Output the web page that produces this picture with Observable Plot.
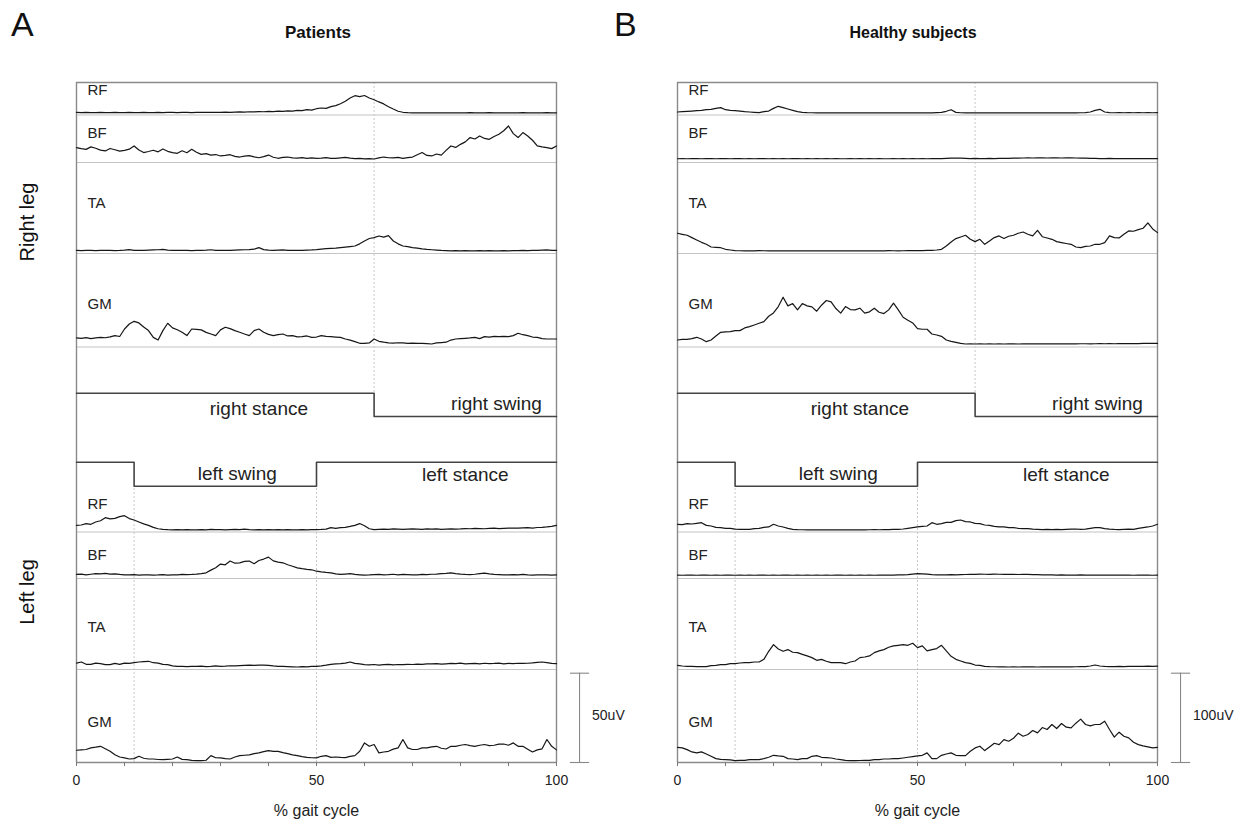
<!DOCTYPE html>
<html><head><meta charset="utf-8">
<script src="https://cdn.jsdelivr.net/npm/d3@7"></script>
<script src="https://cdn.jsdelivr.net/npm/@observablehq/plot@0.6"></script>
<style>
body{margin:0;background:#fff;font-family:"Liberation Sans",Arial,sans-serif;color:#111;}
#wrap{position:relative;width:1243px;height:829px;overflow:hidden;}
.panel{position:absolute;top:0;}
.t{position:absolute;white-space:nowrap;}
</style></head>
<body><div id="wrap">
<div id="pA" class="panel" style="left:0px"></div>
<div id="pB" class="panel" style="left:620px"></div>
<div class="t" style="left:11px;top:5px;font-size:34px;">A</div>
<div class="t" style="left:614px;top:5px;font-size:34px;">B</div>
<div class="t" style="left:318px;top:33px;transform:translate(-50%,-50%);font-size:17px;font-weight:bold;">Patients</div>
<div class="t" style="left:913px;top:33px;transform:translate(-50%,-50%);font-size:16px;font-weight:bold;">Healthy subjects</div>
<div class="t" style="left:27px;top:222px;transform:translate(-50%,-50%) rotate(-90deg);font-size:20px;">Right leg</div>
<div class="t" style="left:27px;top:592px;transform:translate(-50%,-50%) rotate(-90deg);font-size:20px;">Left leg</div>
</div>
<script>
// ---------- DATA (µV above baseline, sampled every 1 % of the gait cycle) ----------
const gaitPct = d3.range(0, 101);
const muscles = ["RF", "BF", "TA", "GM"];
const xTicks = [0, 10, 20, 30, 40, 50, 60, 70, 80, 90, 100];
const xTickLabels = [0, 50, 100];

const patientsRightRF = [0.3,0.2,0.3,0.2,0.2,0.3,0.2,0.2,0.3,0.2, 0.2,0.3,0.2,0.2,0.3,0.2,0.2,0.3,0.2,0.3, 0.3,0.2,0.3,0.3,0.2,0.3,0.4,0.3,0.4,0.3, 0.4,0.5,0.4,0.5,0.6,0.5,0.7,0.6,0.8,0.7, 0.9,0.8,1.0,0.9,1.2,1.1,1.5,1.3,1.9,1.6, 2.4,2.8,2.6,3.6,4.1,5.2,6.6,8.4,9.7,9.2, 9.8,8.4,7.4,6.2,5.1,3.5,2.2,1.0,0.4,0.2, 0.1,0.1,0.1,0.1,0.1,0.1,0.1,0.1,0.1,0.1, 0.1,0.1,0.2,0.1,0.1,0.1,0.2,0.1,0.1,0.1, 0.1,0.1,0.1,0.2,0.1,0.1,0.1,0.1,0.2,0.1,0.1];
const patientsRightBF = [6.4,5.8,5.4,6.8,6.0,5.0,4.5,5.9,5.2,4.4, 4.8,5.5,7.3,5.0,3.6,4.2,4.9,4.0,5.6,4.3, 3.6,3.2,4.6,3.5,5.4,3.8,2.6,3.0,2.2,2.5, 1.7,2.0,2.4,1.5,1.1,1.6,1.9,1.2,0.7,1.3, 2.2,1.0,0.4,0.9,1.1,0.6,0.5,0.8,0.4,0.6, 0.3,0.5,0.8,0.4,0.3,0.6,0.9,0.5,0.2,0.4, 0.1,0.2,0.0,0.6,1.1,0.7,0.6,0.9,0.4,0.8, 1.1,2.4,3.6,2.0,1.7,2.8,2.2,4.8,7.3,6.5, 8.2,9.6,12.0,11.2,12.9,11.5,11.0,12.6,13.9,15.8, 18.5,14.2,12.0,14.8,12.9,10.5,7.3,6.8,6.4,5.8,7.3];
const patientsRightTA = [0.3,0.2,0.4,0.3,0.2,0.3,0.4,0.3,0.2,0.3, 0.5,0.8,0.4,0.3,0.4,0.5,0.6,0.7,0.9,0.5, 0.4,0.3,0.4,0.3,0.2,0.3,0.4,0.5,0.7,0.4, 0.3,0.4,0.3,0.5,0.6,0.7,0.8,1.0,1.9,0.8, 0.5,0.4,0.5,0.6,0.4,0.3,0.4,0.3,0.5,0.6, 0.8,1.1,1.3,1.5,1.6,1.9,2.2,2.5,2.8,4.0, 5.6,7.0,7.5,8.4,7.8,8.6,5.6,4.0,2.8,2.4, 1.9,1.6,1.2,0.9,0.7,0.5,0.3,0.2,0.1,0.2, 0.1,0.2,0.1,0.1,0.2,0.1,0.2,0.1,0.1,0.2, 0.1,0.2,0.2,0.3,0.2,0.3,0.4,0.5,0.6,0.4,0.4];
const patientsRightGM = [3.4,3.2,3.6,3.0,3.4,3.7,3.5,4.0,4.7,4.2, 8.4,11.2,12.7,11.8,9.5,7.5,3.7,2.2,7.5,11.6, 9.0,8.0,6.6,4.7,8.4,8.2,7.9,6.5,5.6,4.7, 7.9,9.4,8.6,7.5,6.6,5.6,4.7,7.5,8.4,6.6, 5.4,4.7,5.2,5.6,4.5,4.7,4.0,4.1,4.5,3.7, 3.9,4.7,4.3,4.1,3.9,3.7,2.8,2.2,1.3,0.4, 0.4,0.6,2.8,1.5,1.0,0.6,0.5,0.7,0.6,0.4, 0.5,0.3,0.4,0.2,0.0,0.6,0.8,1.0,2.2,2.8, 3.0,3.2,3.4,3.7,3.0,4.1,3.9,4.3,4.1,4.3, 4.1,4.7,6.0,5.2,4.7,3.9,3.7,3.0,2.8,2.8,2.8];
const patientsLeftRF = [2.6,2.8,3.6,3.2,4.5,5.2,6.9,6.2,6.5,7.5, 8.0,6.4,5.6,4.5,3.4,2.6,1.5,0.7,0.4,0.2, 0.1,0.2,0.1,0.2,0.1,0.1,0.2,0.1,0.3,0.2, 0.2,0.1,0.2,0.3,0.2,0.5,0.2,0.1,0.2,0.1, 0.2,0.1,0.2,0.1,0.2,0.1,0.1,0.2,0.1,0.2, 0.2,0.3,0.5,1.3,0.9,1.3,1.5,2.0,2.6,3.6, 2.4,0.7,0.2,0.4,0.5,0.4,0.6,0.5,0.4,0.5, 0.6,0.5,0.4,0.6,0.5,0.6,0.4,0.5,0.6,0.5, 0.6,0.8,0.7,0.9,0.8,0.7,0.9,1.0,0.8,0.9, 1.0,1.1,1.0,1.2,1.3,1.1,1.4,1.5,1.7,2.0,2.6];
const patientsLeftBF = [0.6,0.8,0.4,0.7,1.0,0.9,1.2,0.8,0.9,0.6, 0.4,0.3,0.5,0.2,0.3,0.4,0.2,0.3,0.5,0.2, 0.3,0.4,0.6,0.5,0.6,0.8,1.1,1.5,3.0,4.3, 6.4,6.0,8.1,6.9,7.1,7.9,8.1,6.6,8.4,9.2, 10.3,8.2,7.5,7.1,6.0,5.2,4.3,3.8,3.4,3.2, 2.4,2.0,1.7,1.5,0.9,0.6,0.8,1.0,0.6,0.4, 0.2,0.3,0.5,0.6,0.4,0.5,0.7,0.4,0.6,0.5, 0.3,0.4,0.6,0.5,0.7,0.8,1.0,1.2,1.5,1.1, 0.8,0.6,0.5,0.7,1.0,1.3,0.9,0.6,0.5,0.4, 0.3,0.5,0.4,0.6,0.3,0.2,0.3,0.4,0.3,0.2,0.3];
const patientsLeftTA = [2.2,2.8,1.5,1.5,2.2,1.9,1.3,1.3,2.0,1.5, 2.2,2.0,2.4,2.8,3.0,3.2,2.4,2.2,1.5,1.3, 0.6,0.4,0.3,0.2,0.4,0.3,0.5,0.2,0.3,0.6, 0.4,0.5,0.7,0.6,0.8,0.9,1.0,0.9,1.1,1.0, 0.9,0.6,0.4,0.3,0.2,0.1,0.0,0.2,0.1,0.3, 0.4,0.6,1.0,1.5,1.8,1.9,2.2,2.8,2.0,1.7, 1.3,1.2,1.4,1.1,1.3,1.5,1.2,1.4,1.3,1.5, 1.4,1.6,1.5,1.8,1.7,1.9,1.6,1.8,2.0,1.9, 2.2,1.8,1.9,2.0,1.7,2.1,1.9,2.0,2.2,1.8, 2.0,1.9,2.1,2.0,2.1,2.3,2.6,2.8,2.4,2.0,1.9];
const patientsLeftGM = [6.2,6.4,6.6,7.5,7.9,8.4,7.0,5.6,3.7,2.4, 1.9,1.3,1.5,2.8,1.7,1.3,1.3,1.0,0.9,1.1, 1.3,2.4,1.1,0.9,0.5,0.4,0.4,0.6,3.2,2.0, 1.9,1.5,1.3,2.4,3.2,3.4,3.6,4.3,4.7,5.4, 6.0,5.6,5.6,4.9,4.3,3.6,3.2,2.6,2.2,2.0, 1.9,2.8,3.2,2.2,2.4,2.2,2.1,2.8,3.2,5.6, 10.3,8.4,9.4,4.7,5.2,5.6,6.8,7.5,12.2,7.5, 6.6,6.6,7.5,7.5,8.1,8.4,7.3,6.9,8.4,8.4, 9.0,9.4,8.8,8.4,9.0,9.4,8.8,9.0,9.6,9.7, 9.0,10.3,8.4,8.4,6.8,5.2,6.4,7.0,12.2,8.4,6.4];

const healthyRightRF = [1.1,1.5,1.9,2.2,2.6,3.0,3.7,4.1,5.2,6.0, 3.7,3.0,2.6,2.2,1.5,1.1,0.7,0.4,1.5,2.2, 5.2,7.5,6.0,4.5,3.0,1.5,0.7,0.4,0.3,0.2, 0.3,0.2,0.3,0.2,0.2,0.3,0.2,0.3,0.2,0.2, 0.3,0.2,0.2,0.3,0.2,0.3,0.2,0.2,0.3,0.2, 0.3,0.2,0.3,0.2,0.4,0.7,1.9,3.7,0.7,0.3, 0.2,0.1,0.2,0.1,0.2,0.1,0.2,0.1,0.2,0.1, 0.2,0.1,0.2,0.2,0.1,0.2,0.1,0.2,0.3,0.2, 0.3,0.2,0.3,0.2,0.3,0.4,1.1,3.0,4.1,1.1, 0.4,0.3,0.4,0.3,0.4,0.3,0.4,0.3,0.4,0.3,0.4];
const healthyRightBF = [0.3,0.4,0.3,0.5,0.4,0.3,0.4,0.5,0.3,0.4, 0.4,0.3,0.5,0.4,0.3,0.4,0.3,0.4,0.5,0.3, 0.4,0.3,0.4,0.3,0.5,0.4,0.3,0.4,0.3,0.4, 0.3,0.4,0.3,0.4,0.3,0.3,0.4,0.3,0.4,0.3, 0.4,0.3,0.4,0.3,0.3,0.4,0.3,0.4,0.3,0.4, 0.3,0.4,0.3,0.4,0.5,0.5,0.8,1.0,1.1,0.9, 0.7,0.5,0.6,0.5,0.5,0.6,0.5,0.6,0.7,0.8, 0.9,1.0,1.1,1.2,1.1,1.3,1.2,1.1,1.3,1.2, 1.1,1.2,1.3,1.1,1.0,0.9,0.8,0.6,0.5,0.5, 0.6,0.5,0.4,0.5,0.4,0.5,0.4,0.5,0.4,0.5,0.4];
const healthyRightTA = [19.9,18.7,17.6,15.0,12.4,9.7,7.5,4.5,4.1,3.7, 1.9,1.1,0.4,0.3,0.2,0.3,0.2,0.4,0.3,0.2, 0.3,0.2,0.3,0.2,0.3,0.2,0.2,0.3,0.2,0.3, 0.2,0.3,0.2,0.3,0.2,0.3,0.2,0.2,0.3,0.2, 0.3,0.2,0.3,0.2,0.4,0.3,0.2,0.3,0.4,0.5, 0.4,0.5,0.6,0.8,1.1,1.9,5.6,10.1,13.9,15.7, 17.6,13.1,10.5,13.1,7.5,11.2,15.0,16.9,14.0,16.5, 17.6,19.9,21.3,18.7,16.9,23.2,16.0,14.6,13.1,10.5, 9.4,8.4,7.5,4.5,3.7,5.2,5.6,7.5,7.5,9.4, 16.9,15.0,14.6,18.7,22.5,22.1,24.0,25.5,31.5,24.7,20.6];
const healthyRightGM = [4.5,5.2,5.2,6.0,7.5,5.6,2.6,4.5,9.0,13.1, 13.5,13.9,15.0,15.0,18.0,19.5,21.3,23.2,25.1,31.1, 34.8,41.9,52.4,42.7,45.3,38.2,45.3,42.7,41.6,36.7, 43.4,48.7,47.2,39.7,34.5,41.9,38.6,38.2,40.1,34.5, 36.0,40.1,35.6,34.1,38.2,45.7,38.2,30.0,26.6,23.6, 17.2,16.5,16.5,11.2,10.1,8.6,4.5,3.0,1.9,0.7, 0.0,0.1,0.0,0.1,0.0,0.1,0.0,0.1,0.0,0.1, 0.1,0.0,0.1,0.1,0.2,0.1,0.1,0.2,0.1,0.2, 0.2,0.2,0.3,0.2,0.3,0.3,0.2,0.3,0.4,0.3, 0.4,0.3,0.4,0.5,0.4,0.5,0.5,0.6,0.6,0.7,0.7];
const healthyLeftRF = [6.4,6.0,7.1,6.7,7.5,8.2,5.2,4.5,3.0,2.6, 1.9,1.9,0.9,0.7,0.7,0.7,1.5,1.9,3.0,3.4, 6.4,4.5,3.4,1.9,0.7,0.4,0.3,0.2,0.1,0.2, 0.1,0.2,0.1,0.2,0.3,0.2,0.1,0.2,0.3,0.2, 0.3,0.4,0.3,0.5,0.4,0.6,0.8,1.1,1.9,2.6, 3.4,4.1,4.5,8.2,6.4,7.1,8.6,8.6,10.5,11.2, 9.4,9.0,7.5,7.1,5.6,5.2,4.1,3.4,3.4,2.6, 2.6,1.9,1.5,1.5,0.9,0.7,0.5,0.6,0.4,0.6, 0.5,0.7,0.9,1.1,0.8,1.0,1.9,2.6,2.6,1.5, 0.9,0.6,0.5,0.8,1.0,0.7,1.9,2.6,3.4,4.5,6.4];
const healthyLeftBF = [0.4,0.3,0.5,0.4,0.3,0.4,0.5,0.3,0.4,0.3, 0.4,0.5,0.3,0.4,0.3,0.4,0.3,0.5,0.4,0.3, 0.4,0.3,0.4,0.5,0.3,0.4,0.3,0.4,0.3,0.4, 0.3,0.4,0.3,0.4,0.5,0.3,0.4,0.3,0.4,0.3, 0.4,0.3,0.4,0.5,0.4,0.5,0.6,0.7,0.9,1.5, 2.0,1.8,1.5,0.9,0.8,0.7,0.8,0.9,0.8,0.9, 1.1,1.2,1.3,1.5,1.4,1.3,1.5,1.4,1.2,1.3, 1.2,1.1,1.3,1.2,1.0,0.9,0.8,0.7,0.6,0.5, 0.6,0.5,0.4,0.5,0.6,0.5,0.4,0.5,0.4,0.5, 0.4,0.5,0.4,0.5,0.4,0.3,0.4,0.5,0.4,0.3,0.4];
const healthyLeftTA = [1.9,1.1,0.7,0.7,0.4,0.4,0.4,1.5,1.9,2.6, 2.6,3.7,3.7,4.5,4.9,4.9,5.6,5.6,8.6,17.6, 25.1,20.2,17.6,19.5,16.5,16.1,14.2,12.4,10.5,7.5, 8.6,6.4,4.9,4.9,4.9,3.7,5.6,6.7,10.5,11.2, 12.4,16.1,18.0,19.5,22.1,23.6,24.3,25.1,24.3,26.6, 21.7,23.6,18.0,19.5,20.6,24.3,18.0,12.0,8.6,6.7, 4.9,4.1,2.2,1.9,0.7,0.4,0.3,0.2,0.1,0.0, 0.1,0.0,0.1,0.2,0.1,0.0,0.1,0.2,0.1,0.2, 0.2,0.3,0.2,0.3,0.4,0.5,1.1,2.2,1.1,0.6, 0.5,0.4,0.6,0.5,0.7,0.6,0.8,0.7,0.9,0.8,0.9];
const healthyLeftGM = [15.7,15.0,13.1,10.5,9.4,10.5,8.2,5.6,3.0,2.2, 1.9,1.5,0.7,1.1,1.1,1.9,1.9,1.9,3.0,4.5, 6.7,6.0,5.6,3.0,2.6,1.9,3.0,3.0,5.6,6.4, 4.5,4.1,3.7,2.6,1.9,1.1,0.7,0.7,0.9,1.1, 1.1,1.9,1.9,2.6,2.6,3.0,3.0,3.7,4.5,5.2, 6.0,6.7,9.4,3.0,3.0,6.7,8.2,9.4,6.7,6.4, 6.4,11.2,15.0,16.9,12.0,16.1,20.2,18.7,24.3,22.5, 25.8,31.5,28.1,30.0,34.5,31.8,37.8,35.6,41.2,36.7, 42.3,38.2,37.5,42.7,47.2,41.2,39.7,41.2,41.2,44.9, 35.6,27.0,32.6,28.1,26.2,21.3,18.7,17.2,16.1,15.0,15.7];

// gait phases (% of cycle)
const rightSwingStart = 62;        // right stance 0–62, right swing 62–100
const leftSwing = [12, 50];        // left swing 12–50, left stance elsewhere
const phaseLabels = [
  {side: "right", text: "right stance", x: 38},
  {side: "right", text: "right swing", x: 87.5},
  {side: "left", text: "left swing", x: 33.5},
  {side: "left", text: "left stance", x: 81}
];
const scaleBarUV = {patients: 50, healthy: 100};

// ---------- LAYOUT (pixels from the top of the SVG; not data) ----------
const FRAME_TOP = 82, FRAME_BOTTOM = 762, BAR_PX = 89.3;
const laneLayout = [
  {side: "right", muscle: "RF", base: 112.5, label: 90},
  {side: "right", muscle: "BF", base: 158.5, label: 133},
  {side: "right", muscle: "TA", base: 250.5, label: 203},
  {side: "right", muscle: "GM", base: 343.5, label: 304},
  {side: "left",  muscle: "RF", base: 529.5, label: 504},
  {side: "left",  muscle: "BF", base: 575,   label: 555},
  {side: "left",  muscle: "TA", base: 666.5, label: 627},
  {side: "left",  muscle: "GM", base: 760.8, label: 722}
];
const separatorsPx = [114.5, 162, 253, 346.5, 531.5, 578, 669];
const stepPx = {rightHigh: 392.7, rightLow: 416, leftHigh: 461.7, leftLow: 485.7};
const phaseTextPx = {"right stance": 408, "right swing": 403, "left swing": 473, "left stance": 474};

const series = {
  patients: {right: [patientsRightRF, patientsRightBF, patientsRightTA, patientsRightGM],
             left:  [patientsLeftRF,  patientsLeftBF,  patientsLeftTA,  patientsLeftGM]},
  healthy:  {right: [healthyRightRF, healthyRightBF, healthyRightTA, healthyRightGM],
             left:  [healthyLeftRF,  healthyLeftBF,  healthyLeftTA,  healthyLeftGM]}
};

function makePanel(group, width, marginLeft, marginRight) {
  const uv = scaleBarUV[group];
  const gain = BAR_PX / uv;                 // px per µV
  const Y = px => (FRAME_BOTTOM - px) / gain; // px -> µV on this panel's y scale
  const traces = [];
  laneLayout.forEach((lane, i) => {
    const vals = series[group][lane.side][muscles.indexOf(lane.muscle)];
    vals.forEach((v, j) => traces.push({lane: i, pct: gaitPct[j], y: Y(lane.base) + v}));
  });
  const rightStep = [
    {x: 0, y: Y(stepPx.rightHigh)}, {x: rightSwingStart, y: Y(stepPx.rightLow)}, {x: 100, y: Y(stepPx.rightLow)}
  ];
  const leftStep = [
    {x: 0, y: Y(stepPx.leftHigh)}, {x: leftSwing[0], y: Y(stepPx.leftLow)},
    {x: leftSwing[1], y: Y(stepPx.leftHigh)}, {x: 100, y: Y(stepPx.leftHigh)}
  ];
  const barX = 104.8;
  return Plot.plot({
    width, height: 829,
    marginLeft, marginRight, marginTop: FRAME_TOP, marginBottom: 829 - FRAME_BOTTOM,
    x: {domain: [0, 100]},
    y: {domain: [0, Y(FRAME_TOP)], axis: null},
    style: {fontFamily: "'Liberation Sans', Arial, sans-serif", fontSize: "14px", color: "#222", background: "transparent", overflow: "visible"},
    marks: [
      Plot.ruleY(separatorsPx.map(Y), {stroke: "#c4c4c4", strokeWidth: 1.2}),
      Plot.ruleX([rightSwingStart], {y1: Y(FRAME_TOP), y2: Y(stepPx.rightHigh), stroke: "#c8c8c8", strokeDasharray: "2,2"}),
      Plot.ruleX(leftSwing, {y1: 0, y2: Y(stepPx.leftLow), stroke: "#c8c8c8", strokeDasharray: "2,2"}),
      Plot.ruleY([Y(FRAME_TOP), 0], {stroke: "#8a8a8a", strokeWidth: 1.3}),
      Plot.ruleX([0, 100], {stroke: "#8a8a8a", strokeWidth: 1.4}),
      Plot.line(rightStep, {x: "x", y: "y", curve: "step-after", stroke: "#444", strokeWidth: 1.6}),
      Plot.line(leftStep, {x: "x", y: "y", curve: "step-after", stroke: "#444", strokeWidth: 1.6}),
      Plot.text(phaseLabels, {x: "x", y: d => Y(phaseTextPx[d.text]), text: "text", fontSize: 19, fill: "#222"}),
      Plot.line(traces, {x: "pct", y: "y", z: "lane", stroke: "#161616", strokeWidth: 1.2, strokeLinejoin: "round"}),
      Plot.text(laneLayout, {x: 0, y: d => Y(d.label), text: "muscle", textAnchor: "start", dx: 11, fontSize: 15, fill: "#222"}),
      Plot.axisX({ticks: xTicks, tickSize: 4, tickPadding: 9, stroke: "#777",
                  tickFormat: d => xTickLabels.includes(d) ? String(d) : "", fontSize: 14, label: null}),
      Plot.text(["% gait cycle"], {frameAnchor: "bottom", dy: 53, fontSize: 16, fill: "#222"}),
      Plot.ruleX([barX], {y1: 0, y2: uv, stroke: "#888", strokeWidth: 1.1}),
      Plot.ruleY([0, uv], {x1: 102.9, x2: 106.9, stroke: "#888", strokeWidth: 1.1}),
      Plot.text([uv + "uV"], {x: 107.4, y: uv * 0.53, textAnchor: "start", fontSize: 14, fill: "#222"})
    ]
  });
}

document.getElementById("pA").append(makePanel("patients", 620, 76, 64));
document.getElementById("pB").append(makePanel("healthy", 623, 57, 86));
</script>
</body></html>
